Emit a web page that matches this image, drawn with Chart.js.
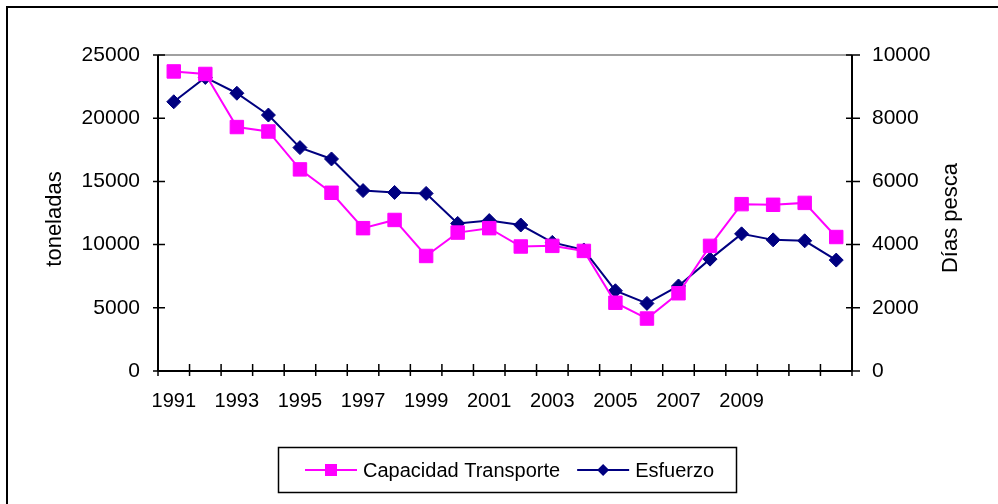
<!DOCTYPE html>
<html>
<head>
<meta charset="utf-8">
<script src="https://cdn.jsdelivr.net/npm/chart.js@4.4.1/dist/chart.umd.min.js"></script>
<style>
  html, body { margin: 0; padding: 0; background: #fff; }
  #wrap { width: 998px; height: 504px; }
</style>
</head>
<body>
<div id="wrap"><canvas id="grafico" width="998" height="504"></canvas></div>
<script>
// datos
var anios = ['1991','1992','1993','1994','1995','1996','1997','1998','1999','2000','2001',
             '2002','2003','2004','2005','2006','2007','2008','2009','2010','2011','2012'];
var etiquetasAnio = ['1991','','1993','','1995','','1997','','1999','','2001',
                     '','2003','','2005','','2007','','2009','','',''];
var capacidad = [23700, 23500, 19300, 18950, 15950, 14100, 11300, 11950, 9100, 10950, 11300,
                 9850, 9900, 9500, 5400, 4150, 6150, 9900, 13200, 13150, 13300, 10600];
var esfuerzo = [8520, 9290, 8790, 8100, 7070, 6710, 5710, 5650, 5620, 4670, 4760,
                4620, 4070, 3830, 2540, 2140, 2690, 3540, 4340, 4150, 4120, 3510];
var ticksToneladas = [0, 5000, 10000, 15000, 20000, 25000];
var ticksDias = [0, 2000, 4000, 6000, 8000, 10000];

var FUENTE = '"Liberation Sans", Arial, sans-serif';
var ROSA = '#ff00ff';
var AZUL = '#000080';

// ejes, ticks cruzados, titulos y leyenda
var decoracion = {
  id: 'decoracion',
  beforeDatasetsDraw: function(chart) {
    var ctx = chart.ctx, a = chart.chartArea;
    var sx = chart.scales.x, sy = chart.scales.y, sy2 = chart.scales.y2;
    ctx.save();
    // linea gris superior
    ctx.strokeStyle = '#808080';
    ctx.lineWidth = 1.5;
    ctx.beginPath(); ctx.moveTo(a.left, a.top); ctx.lineTo(a.right, a.top); ctx.stroke();

    ctx.strokeStyle = '#000';
    ctx.lineWidth = 2;
    ctx.beginPath();
    ctx.moveTo(a.left, a.top); ctx.lineTo(a.left, a.bottom);
    ctx.moveTo(a.right, a.top); ctx.lineTo(a.right, a.bottom);
    ctx.moveTo(a.left, a.bottom); ctx.lineTo(a.right, a.bottom);
    ctx.stroke();

    ctx.lineWidth = 1.5;
    ctx.beginPath();
    ticksToneladas.forEach(function(v) {
      var y = sy.getPixelForValue(v);
      ctx.moveTo(a.left - 5, y); ctx.lineTo(a.left + 7, y);
    });
    ticksDias.forEach(function(v) {
      var y = sy2.getPixelForValue(v);
      ctx.moveTo(a.right - 6, y); ctx.lineTo(a.right + 8, y);
    });
    var paso = sx.getPixelForValue(1) - sx.getPixelForValue(0);
    var x0 = sx.getPixelForValue(0) - paso / 2;
    for (var k = 0; k <= anios.length; k++) {
      var x = x0 + k * paso;
      ctx.moveTo(x, a.bottom - 7); ctx.lineTo(x, a.bottom + 5);
    }
    ctx.stroke();
    ctx.restore();
  },
  afterDraw: function(chart) {
    var ctx = chart.ctx;
    ctx.save();
    // marco exterior
    ctx.strokeStyle = '#000';
    ctx.lineWidth = 2;
    ctx.strokeRect(7, 7, 1000, 1000);

    // titulos de ejes
    ctx.fillStyle = '#000';
    ctx.font = '22px ' + FUENTE;
    ctx.textAlign = 'center';
    ctx.textBaseline = 'middle';
    ctx.save(); ctx.translate(55, 219); ctx.rotate(-Math.PI / 2); ctx.fillText('toneladas', 0, 0); ctx.restore();
    ctx.save(); ctx.translate(951, 218); ctx.rotate(-Math.PI / 2); ctx.fillText('Días pesca', 0, 0); ctx.restore();

    // leyenda
    ctx.lineWidth = 1.5;
    ctx.strokeRect(278.5, 447.5, 458, 45);
    ctx.font = '20px ' + FUENTE;
    ctx.textAlign = 'left';
    var yl = 470;
    var xl = 305;
    ctx.strokeStyle = ROSA; ctx.lineWidth = 2;
    ctx.beginPath(); ctx.moveTo(xl, yl); ctx.lineTo(xl + 52, yl); ctx.stroke();
    ctx.fillStyle = ROSA;
    ctx.fillRect(xl + 26 - 6, yl - 6, 12, 12);
    ctx.fillStyle = '#000';
    ctx.fillText('Capacidad Transporte', xl + 58, yl + 1);
    var w1 = ctx.measureText('Capacidad Transporte').width;
    xl = xl + 58 + w1 + 17;
    ctx.strokeStyle = AZUL;
    ctx.beginPath(); ctx.moveTo(xl, yl); ctx.lineTo(xl + 52, yl); ctx.stroke();
    ctx.fillStyle = AZUL;
    ctx.beginPath();
    ctx.moveTo(xl + 26, yl - 6); ctx.lineTo(xl + 32, yl); ctx.lineTo(xl + 26, yl + 6); ctx.lineTo(xl + 20, yl);
    ctx.closePath(); ctx.fill();
    ctx.fillStyle = '#000';
    ctx.fillText('Esfuerzo', xl + 58, yl + 1);
    ctx.restore();
  }
};

function sinSeparador(v) { return String(v); }

new Chart(document.getElementById('grafico'), {
  type: 'line',
  data: {
    labels: anios,
    datasets: [{
      label: 'Capacidad Transporte',
      data: capacidad,
      yAxisID: 'y',
      borderColor: ROSA,
      backgroundColor: ROSA,
      borderWidth: 2,
      pointStyle: 'rect',
      pointRadius: 9.5,
      pointBorderWidth: 1,
      pointBorderColor: ROSA,
      pointBackgroundColor: ROSA,
      tension: 0
    }, {
      label: 'Esfuerzo',
      data: esfuerzo,
      yAxisID: 'y2',
      borderColor: AZUL,
      backgroundColor: AZUL,
      borderWidth: 2,
      pointStyle: 'rectRot',
      pointRadius: 7,
      pointBorderWidth: 1,
      pointBorderColor: AZUL,
      pointBackgroundColor: AZUL,
      tension: 0
    }]
  },
  options: {
    responsive: false,
    animation: false,
    layout: { padding: { top: 55, left: 0, right: 0, bottom: 0 } },
    plugins: { legend: { display: false }, tooltip: { enabled: false } },
    scales: {
      x: {
        type: 'category',
        offset: true,
        grid: { display: false, drawTicks: false },
        border: { display: false },
        ticks: {
          autoSkip: false, maxRotation: 0, minRotation: 0, padding: 18,
          color: '#000', font: { family: FUENTE, size: 20 },
          callback: function(v, i) { return etiquetasAnio[i]; }
        },
        afterFit: function(s) { s.height = 133; }
      },
      y: {
        position: 'left',
        min: 0, max: 25000,
        grid: { display: false, drawTicks: false },
        border: { display: false },
        ticks: { stepSize: 5000, padding: 18, color: '#000', font: { family: FUENTE, size: 21 }, callback: sinSeparador },
        afterFit: function(s) { s.width = 158; }
      },
      y2: {
        position: 'right',
        min: 0, max: 10000,
        grid: { display: false, drawTicks: false },
        border: { display: false },
        ticks: { stepSize: 2000, padding: 20, color: '#000', font: { family: FUENTE, size: 21 }, callback: sinSeparador },
        afterFit: function(s) { s.width = 146; }
      }
    }
  },
  plugins: [decoracion]
});
</script>
</body>
</html>
